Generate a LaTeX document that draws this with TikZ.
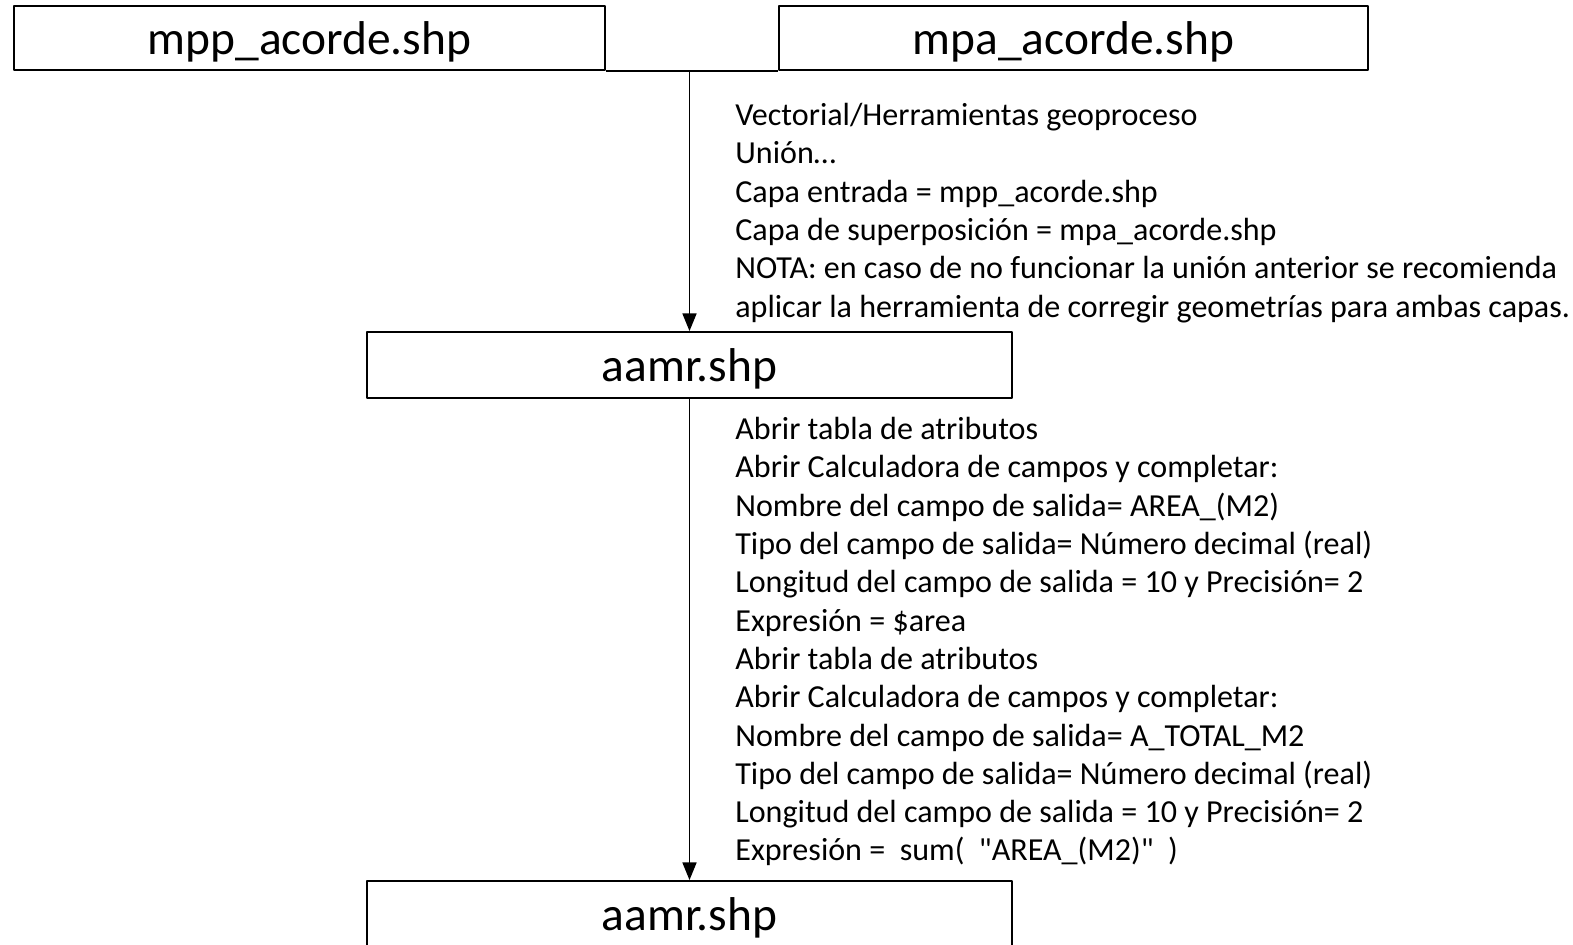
\documentclass[tikz,border=0pt]{standalone}
\usepackage{fontspec}
\setmainfont{Carlito}
\usetikzlibrary{arrows.meta}
\begin{document}
\begin{tikzpicture}[>={Triangle[length=10pt,width=8pt]},x=0.02cm,y=-0.02cm,line join=round,
	box/.style={draw,line width=1.1pt,minimum height=1.3cm,inner sep=0pt,text height=21pt,text depth=2pt,font=\fontsize{27pt}{31pt}\selectfont},
	steps/.style={anchor=north west,inner sep=0pt,align=left,font=\fontsize{18.25pt}{21.8pt}\selectfont}]
	\useasboundingbox (0,0) rectangle (1573,945);
	\node[box,minimum width=11.82cm,minimum height=1.28cm] (mpp) at (309.5,38) {mpp\_acorde.shp};
	\node[box,minimum width=11.78cm,minimum height=1.28cm] (mpa) at (1073.5,38) {mpa\_acorde.shp};
	\node[box,minimum width=12.9cm,minimum height=1.32cm] (aamr1) at (689.5,365) {aamr.shp};
	\node[box,minimum width=12.9cm,minimum height=1.32cm] (aamr2) at (689.5,914) {aamr.shp};
	\coordinate (junction) at (aamr1.north |- mpp.south);
	\draw[line width=0.8pt] (mpp.south east) -- (mpa.south west);
	\draw[->,line width=0.8pt] (junction) -- (aamr1);
	\draw[->,line width=0.8pt] (aamr1) -- (aamr2);
	% pasos de geoproceso
	\node[steps] (union) at (735,103) {Vectorial/Herramientas geoproceso\\
		Unión…\\
		Capa entrada = mpp\_acorde.shp\\
		Capa de superposición = mpa\_acorde.shp\\
		NOTA: en caso de no funcionar la unión anterior se recomienda\\
		aplicar la herramienta de corregir geometrías para ambas capas.};
	\node[steps] (calc) at (735,417) {Abrir tabla de atributos\\
		Abrir Calculadora de campos y completar:\\
		Nombre del campo de salida= AREA\_(M2)\\
		Tipo del campo de salida= Número decimal (real)\\
		Longitud del campo de salida = 10 y Precisión= 2\\
		Expresión = \$area\\
		Abrir tabla de atributos\\
		Abrir Calculadora de campos y completar:\\
		Nombre del campo de salida= A\_TOTAL\_M2\\
		Tipo del campo de salida= Número decimal (real)\\
		Longitud del campo de salida = 10 y Precisión= 2\\
		Expresión = \ sum( \ \textquotedbl AREA\_(M2)\textquotedbl{} \ )};
\end{tikzpicture}
\end{document}
